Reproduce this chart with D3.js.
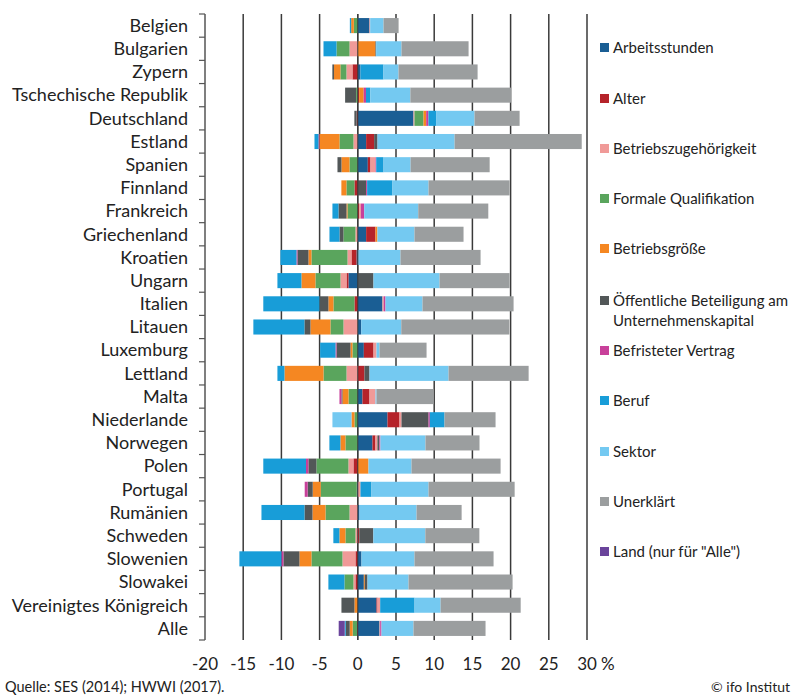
<!DOCTYPE html>
<html>
<head>
<meta charset="utf-8">
<script src="https://cdn.jsdelivr.net/npm/d3@7"></script>
<style>
  html, body { margin: 0; padding: 0; background: #fff; }
  svg text { font-family: Lato, "Noto Sans", sans-serif; fill: #222; }
</style>
</head>
<body>
<svg id="chart" width="795" height="698"></svg>
<script>
const countries = ["Belgien","Bulgarien","Zypern","Tschechische Republik","Deutschland","Estland","Spanien","Finnland","Frankreich","Griechenland","Kroatien","Ungarn","Italien","Litauen","Luxemburg","Lettland","Malta","Niederlande","Norwegen","Polen","Portugal","Rumänien","Schweden","Slowenien","Slowakei","Vereinigtes Königreich","Alle"];

const seriesNames = ["Arbeitsstunden","Alter","Betriebszugehörigkeit","Formale Qualifikation","Betriebsgröße","Öffentliche Beteiligung am Unternehmenskapital","Befristeter Vertrag","Beruf","Sektor","Unerklärt","Land (nur für \"Alle\")"];
const seriesColors = ["#1a5e94","#b5232a","#f09a98","#5aa55d","#f58722","#525758","#c8409a","#189dd8","#74c9f1","#9b9e9f","#6a449b"];

const arbeitsstunden = [1.53,0,0.35,0,7.29,1.09,1.31,0,0,1.09,-0.17,-1.22,3.23,0.45,0.79,0,0.61,3.89,1.92,0,-0.13,0.22,0,0.48,0.79,2.45,2.84];
const alter = [0,0,-0.70,0.17,-0.15,1.05,0.35,-0.44,0.2,1.22,-0.66,-0.26,-0.44,0,1.27,0.87,0.92,1.57,0.39,-0.57,0,0,0.2,-0.31,-0.31,0.13,-0.1];
const betriebszugehoerigkeit = [0.09,-1.09,-0.79,0,0.13,-0.57,0.66,0,0.2,-0.31,-0.52,-0.79,0.17,-1.88,0.39,-1.48,0.79,0.26,0.26,-0.66,0.35,-1.09,-0.31,-1.70,-0.26,0.35,0.09];
const formaleQualifikation = [-0.52,-1.70,-0.79,-0.22,1.18,-1.83,-1.09,-1.05,-1.35,-1.57,-4.72,-3.28,-2.75,-1.70,-0.70,-3.01,-1.22,-0.44,-1.62,-4.19,-4.72,-3.14,-1.31,-4.06,-1.18,0,-0.57];
const betriebsgroesse = [-0.35,2.31,-0.83,0.6,0.35,-2.62,-1.05,-0.66,-0.13,0.26,-0.39,-1.83,-0.66,-2.62,-0.26,-5.11,-0.79,-0.39,-0.66,1.40,-1.05,-1.70,-0.79,-1.57,0.13,-0.44,-0.39];
const oeffentlicheBeteiligung = [0,0.09,-0.22,-1.44,-0.3,0.44,-0.52,1.09,-1.05,-0.52,-1.44,2.05,-1.18,-0.79,-1.83,0.66,-0.13,3.54,0.26,-1.05,-0.66,-1.05,1.83,-2.10,0.35,-1.70,-0.52];
const befristeterVertrag = [0,0,0,0.3,0.3,-0.13,0.09,0.13,0.44,0,-0.13,0,0.22,0,-0.13,0,-0.26,0.17,0.13,-0.31,-0.39,0,0,-0.26,0,0,0.17];
const beruf = [-0.17,-1.70,3.01,0.57,1.05,-0.52,0.96,3.32,-0.79,-1.31,-2.10,-3.14,-7.34,-6.68,-2.01,-0.92,0,1.92,-1.44,-5.59,1.44,-5.63,-0.79,-5.50,-2.10,4.50,-0.13];
const sektor = [1.75,3.32,1.97,5.24,4.98,10.09,3.54,4.72,7.07,4.85,5.59,8.65,4.85,5.24,0.39,10.35,0.13,-2.49,5.90,5.63,7.47,7.47,6.81,6.94,5.37,3.41,4.19];
const unerklaert = [1.97,8.78,10.35,13.19,5.9,16.64,10.35,10.61,9.17,6.42,10.48,9.17,11.92,14.15,6.16,10.48,7.47,6.68,7.07,11.66,11.27,5.90,7.07,10.35,13.62,10.48,9.43];
const land = [0,0,0,0,0,0,0,0,0,0,0,0,0,0,0,0,0,0,0,0,0,0,0,0,0,0,-0.79];

const xTicks = [-20,-15,-10,-5,0,5,10,15,20,25,30];

const seriesValues = [arbeitsstunden, alter, betriebszugehoerigkeit, formaleQualifikation, betriebsgroesse, oeffentlicheBeteiligung, befristeterVertrag, beruf, sektor, unerklaert, land];

const rows = countries.map((c, i) => {
  const r = { country: c };
  seriesNames.forEach((s, j) => { r[s] = seriesValues[j][i]; });
  return r;
});

const svg = d3.select("#chart");
const x = d3.scaleLinear().domain([-20, 30]).range([205, 587]);
const y = d3.scaleBand().domain(countries).range([14, 640]).paddingInner(0.35).paddingOuter(0.175);

// gridlines
svg.append("g").selectAll("line").data(xTicks.filter(d => d !== -20)).join("line")
  .attr("x1", d => x(d)).attr("x2", d => x(d))
  .attr("y1", 14).attr("y2", 640)
  .attr("stroke", "#3a3a3a").attr("stroke-width", 1.5);

// stacked bars
const stack = d3.stack().keys(seriesNames).offset(d3.stackOffsetDiverging).order(d3.stackOrderNone);
const stacked = stack(rows);
svg.append("g").selectAll("g").data(stacked).join("g")
  .attr("fill", (d, i) => seriesColors[i])
  .selectAll("rect").data(d => d).join("rect")
  .attr("x", d => x(Math.min(d[0], d[1])))
  .attr("width", d => Math.abs(x(d[1]) - x(d[0])))
  .attr("y", d => y(d.data.country))
  .attr("height", y.bandwidth());

// zero line over bars (thin)
svg.append("line").attr("x1", x(0)).attr("x2", x(0)).attr("y1", 14).attr("y2", 640)
  .attr("stroke", "#3a3a3a").attr("stroke-width", 1);

// left axis
const step = y.step();
const yAxis = svg.append("g");
yAxis.append("line").attr("x1", 205).attr("x2", 205).attr("y1", 14).attr("y2", 640)
  .attr("stroke", "#555").attr("stroke-width", 1.5);
const bounds = d3.range(countries.length + 1).map(i => 14 + i * step);
yAxis.selectAll("line.tick").data(bounds).join("line").attr("class", "tick")
  .attr("x1", 199).attr("x2", 205).attr("y1", d => d).attr("y2", d => d)
  .attr("stroke", "#555").attr("stroke-width", 1.2);
yAxis.selectAll("text").data(countries).join("text")
  .attr("x", 188).attr("y", d => y(d) + y.bandwidth() / 2)
  .attr("dy", "0.35em").attr("text-anchor", "end")
  .style("font-size", "18px").text(d => d);

// x tick labels
svg.append("g").selectAll("text").data(xTicks).join("text")
  .attr("x", d => x(d)).attr("y", 670).attr("text-anchor", "middle")
  .style("font-size", "17px").text(d => d);
svg.append("text").attr("x", 601).attr("y", 670).style("font-size", "17px").text("%");

// legend
const legendY = [48, 99, 149, 199, 249, 301, 351, 401, 452, 502, 552];
const lg = svg.append("g");
seriesNames.forEach((s, i) => {
  lg.append("rect").attr("x", 600).attr("y", legendY[i] - 5).attr("width", 9).attr("height", 9).attr("fill", seriesColors[i]);
  const t = lg.append("text").attr("x", 613).attr("y", legendY[i]).attr("dy", "0.35em").style("font-size", "15px");
  if (i === 5) {
    t.append("tspan").attr("x", 613).text("Öffentliche Beteiligung am");
    t.append("tspan").attr("x", 613).attr("dy", "20").text("Unternehmenskapital");
  } else {
    t.text(s);
  }
});

// footer
svg.append("text").attr("x", 5).attr("y", 692).style("font-size", "14.5px").text("Quelle: SES (2014); HWWI (2017).");
svg.append("text").attr("x", 790).attr("y", 692).attr("text-anchor", "end").style("font-size", "14px").text("© ifo Institut");
</script>
</body>
</html>
